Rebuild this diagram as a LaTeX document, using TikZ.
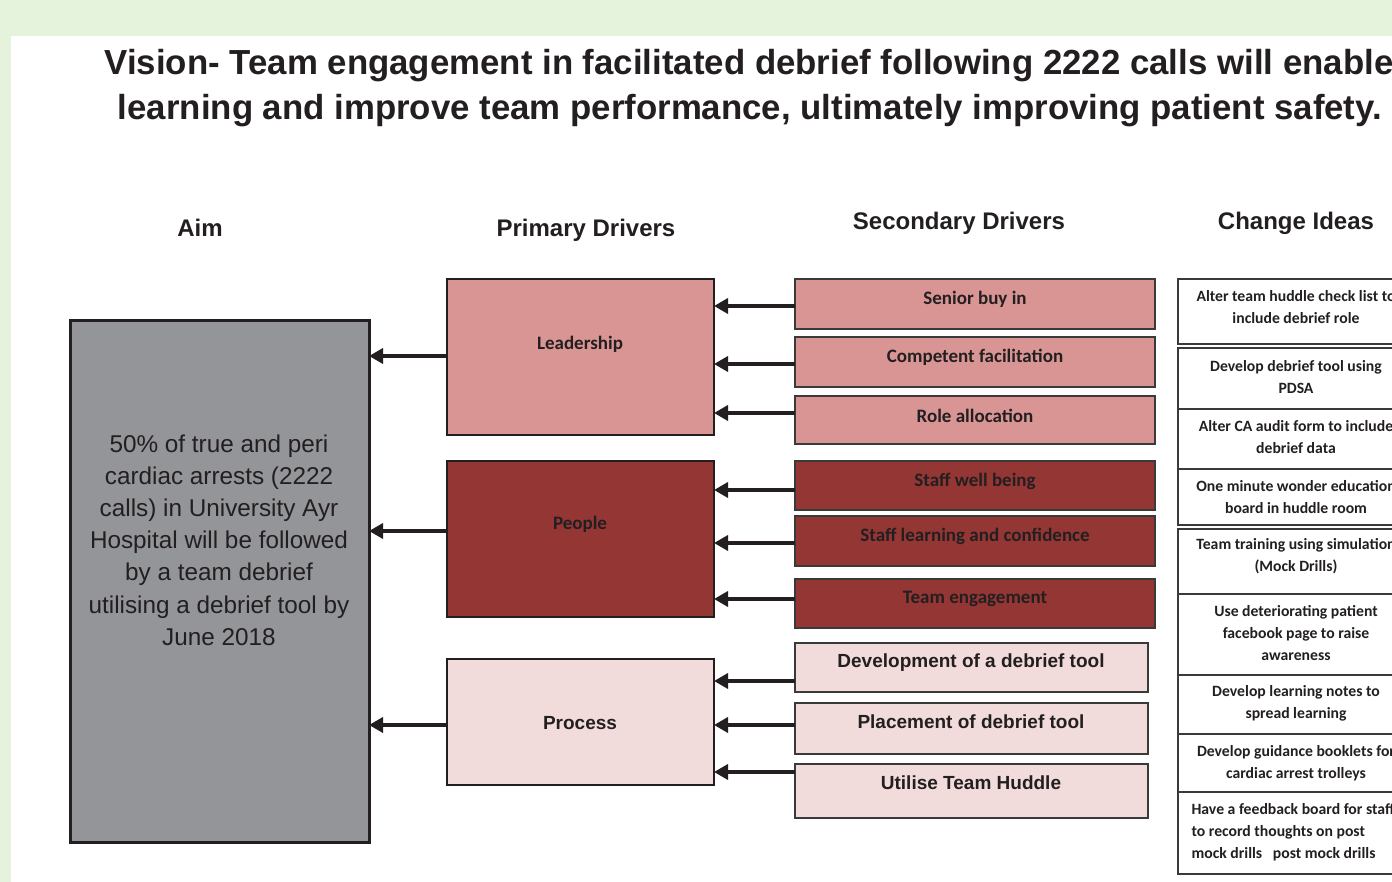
\documentclass[tikz,border=0pt]{standalone}
\usepackage{fontspec}
\setmainfont{Liberation Sans}
\newfontfamily\calib{Carlito}
\usetikzlibrary{arrows.meta}
\definecolor{bggreen}{HTML}{E5F2DC}
\definecolor{ink}{HTML}{231F20}
\definecolor{leadfill}{HTML}{D99594}
\definecolor{peoplefill}{HTML}{943634}
\definecolor{procfill}{HTML}{F2DCDB}
\definecolor{aimfill}{HTML}{939598}
\definecolor{edge}{HTML}{3A3A3A}

\begin{document}
\begin{tikzpicture}[x=1pt,y=-1pt,
  thinbox/.style={draw=edge, line width=1.3pt, inner sep=0pt, outer sep=0pt},
  primbox/.style={draw=ink, line width=2.5pt, inner sep=0pt, outer sep=0pt, minimum width=267pt},
  secbox/.style={thinbox, minimum width=360pt},
  procsec/.style={thinbox, minimum width=353pt, fill=procfill},
  ideabox/.style={thinbox, minimum width=236pt},
  head/.style={font=\fontsize{24}{28}\selectfont\bfseries, text=ink, anchor=base},
  cal/.style={font=\calib\fontsize{19}{22}\selectfont\bfseries, text=ink},
  ari/.style={font=\fontsize{19}{22}\selectfont\bfseries, text=ink},
  idea/.style={font=\calib\fontsize{15.7}{22}\selectfont\bfseries, text=ink, align=center},
  feed/.style={draw=ink, line width=4pt, -{Triangle[length=14pt,width=15pt]}}
]
\useasboundingbox (0,0) rectangle (1392,882);
\clip (0,0) rectangle (1392,882);

% page background and white panel
\fill[bggreen] (0,0) rectangle (1392,882);
\fill[white] (11,36) rectangle (1392,882);

% vision statement
\node[font=\fontsize{34.8}{40}\selectfont\bfseries, text=ink, anchor=base] (vis1) at (749,75)
  {Vision- Team engagement in facilitated debrief following 2222 calls will enable};
\node[font=\fontsize{34.8}{40}\selectfont\bfseries, text=ink, anchor=base] (vis2) at (750,120)
  {learning and improve team performance, ultimately improving patient safety.};

% column headings
\node[head] (hAim) at (200,237) {Aim};
\node[head] (hPrim) at (586,237) {Primary Drivers};
\node[head] (hSec) at (959,230) {Secondary Drivers};
\node[head] (hIdea) at (1296,230) {Change Ideas};

% aim
\node[draw=ink, line width=3pt, fill=aimfill, inner sep=0pt, outer sep=0pt,
      minimum width=299pt, minimum height=521pt] (aim) at (219.5,581.5) {};
\node[font=\fontsize{24.3}{32.2}\selectfont, text=ink, align=center] (aimtxt) at (219,540)
  {50\% of true and peri\\cardiac arrests (2222\\calls) in University Ayr\\Hospital will be followed\\by a team debrief\\utilising a debrief tool by\\June 2018};

% primary drivers
\node[primbox, fill=leadfill, minimum height=156pt] (p1) at (580.5,357) {};
\node[primbox, fill=peoplefill, minimum height=156pt] (p2) at (580.5,539) {};
\node[primbox, fill=procfill, minimum height=126pt] (p3) at (580.5,722) {};
\node[cal] (p1t) at (580,344) {Leadership};
\node[cal] (p2t) at (580,524) {People};
\node[ari] (p3t) at (580,723) {Process};

% secondary drivers
\node[secbox, fill=leadfill, minimum height=50pt] (s1) at (975,304) {};
\node[secbox, fill=leadfill, minimum height=50pt] (s2) at (975,362) {};
\node[secbox, fill=leadfill, minimum height=48pt] (s3) at (975,420) {};
\node[secbox, fill=peoplefill, minimum height=49pt] (s4) at (975,485.5) {};
\node[secbox, fill=peoplefill, minimum height=50pt] (s5) at (975,541) {};
\node[secbox, fill=peoplefill, minimum height=49pt] (s6) at (975,603.5) {};
\node[procsec, minimum height=49pt] (s7) at (971.5,667.5) {};
\node[procsec, minimum height=51pt] (s8) at (971.5,728.5) {};
\node[procsec, minimum height=54pt] (s9) at (971.5,791) {};
\node[cal] (s1t) at (975,299) {Senior buy in};
\node[cal] (s2t) at (975,357) {Competent facilitation};
\node[cal] (s3t) at (975,416) {Role allocation};
\node[cal] (s4t) at (975,481) {Staff well being};
\node[cal] (s5t) at (975,536) {Staff learning and confidence};
\node[cal] (s6t) at (975,599) {Team engagement};
\node[ari] (s7t) at (971,663) {Development of a debrief tool};
\node[ari] (s8t) at (971,722) {Placement of debrief tool};
\node[ari] (s9t) at (971,783) {Utilise Team Huddle};

% change ideas
\node[ideabox, minimum height=65pt] (c1) at (1296,311.5) {};
\node[ideabox, minimum height=61pt] (c2) at (1296,378.5) {};
\node[ideabox, minimum height=60pt] (c3) at (1296,439) {};
\node[ideabox, minimum height=56pt] (c4) at (1296,497) {};
\node[ideabox, minimum height=65pt] (c5) at (1296,561.5) {};
\node[ideabox, minimum height=81pt] (c6) at (1296,634.5) {};
\node[ideabox, minimum height=59pt] (c7) at (1296,704.5) {};
\node[ideabox, minimum height=58pt] (c8) at (1296,763) {};
\node[ideabox, minimum height=82pt] (c9) at (1296,833) {};
\node[idea] (c1t) at (1296,307.5) {Alter team huddle check list to\\include debrief role};
\node[idea] (c2t) at (1296,377.5) {Develop debrief tool using\\PDSA};
\node[idea] (c3t) at (1296,437.5) {Alter CA audit form to include\\debrief data};
\node[idea] (c4t) at (1296,497.5) {One minute wonder education\\board in huddle room};
\node[idea] (c5t) at (1296,556.5) {Team training using simulation\\(Mock Drills)};
\node[idea] (c6t) at (1296,633.5) {Use deteriorating patient\\facebook page to raise\\awareness};
\node[idea] (c7t) at (1296,703) {Develop learning notes to\\spread learning};
\node[idea] (c8t) at (1296,763) {Develop guidance booklets for\\cardiac arrest trolleys};
\node[idea, align=left, anchor=west] (c9t) at (1188,832)
  {Have a feedback board for staff\\to record thoughts on post\\mock drills\ \ \ post mock drills};

% arrows: secondary drivers into primary drivers
\path (s1.west) ++(0,2) coordinate (a1);
\path (s2.west) ++(0,2) coordinate (a2);
\path (s3.west) ++(0,-7) coordinate (a3);
\path (s4.west) ++(0,4.5) coordinate (a4);
\path (s5.west) ++(0,2) coordinate (a5);
\path (s6.west) ++(0,-4.5) coordinate (a6);
\path (s7.west) ++(0,13.5) coordinate (a7);
\path (s8.west) ++(0,-3.5) coordinate (a8);
\path (s9.west) ++(0,-19) coordinate (a9);
\draw[feed] (a1) -- (a1 -| p1.east);
\draw[feed] (a2) -- (a2 -| p1.east);
\draw[feed] (a3) -- (a3 -| p1.east);
\draw[feed] (a4) -- (a4 -| p2.east);
\draw[feed] (a5) -- (a5 -| p2.east);
\draw[feed] (a6) -- (a6 -| p2.east);
\draw[feed] (a7) -- (a7 -| p3.east);
\draw[feed] (a8) -- (a8 -| p3.east);
\draw[feed] (a9) -- (a9 -| p3.east);

% arrows: primary drivers into the aim
\path (p1.west) ++(0,-1) coordinate (b1);
\path (p2.west) ++(0,-8) coordinate (b2);
\path (p3.west) ++(0,3) coordinate (b3);
\draw[feed] (b1) -- (b1 -| aim.east);
\draw[feed] (b2) -- (b2 -| aim.east);
\draw[feed] (b3) -- (b3 -| aim.east);
\end{tikzpicture}
\end{document}
